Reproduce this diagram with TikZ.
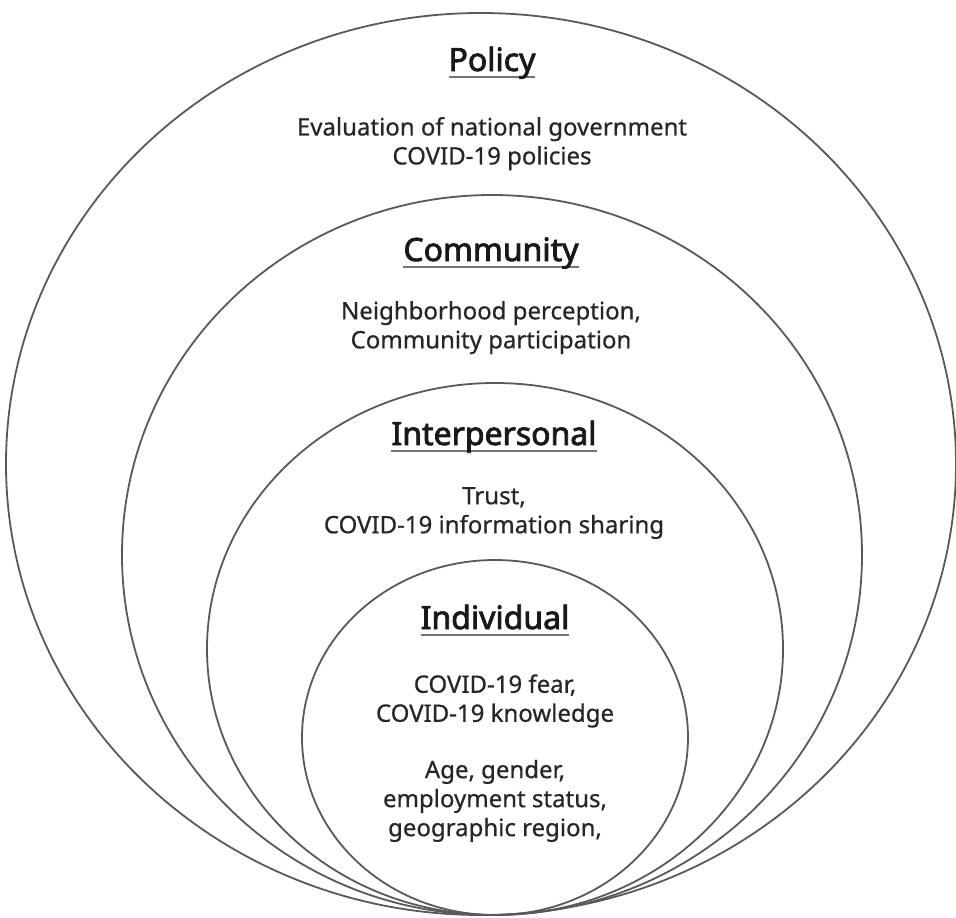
\documentclass[tikz,border=0pt]{standalone}
\usepackage{fontspec}
\setmainfont{Noto Sans}[FakeBold=0.6]
\newfontfamily\headfont{Noto Sans}[FakeBold=2.5]
\usetikzlibrary{shapes.geometric,positioning}

\newcommand{\levelhead}[1]{\setbox0=\hbox{#1}\rlap{\color{black!55}\rule[-7pt]{\wd0}{1.8pt}}\box0}

\begin{document}
\begin{tikzpicture}[x=1pt, y=-1pt,
    level/.style={ellipse, draw=black!65, line width=1.8pt, inner sep=0pt, outer sep=0pt},
    head/.style={anchor=base, inner sep=0pt, text=black!90, font=\headfont\fontsize{32}{38}\selectfont},
    body/.style={align=center, inner sep=0pt, text=black!85, font=\bfseries\fontsize{24}{29}\selectfont}]

  \useasboundingbox (0,0) rectangle (956,918);

  % levels
  \node[level, minimum width=950pt, minimum height=902pt] (policy) at (481,464) {};
  \node[level, minimum width=740pt, minimum height=720pt] (community) at (492,555) {};
  \node[level, minimum width=576pt, minimum height=532pt] (interpersonal) at (495,649) {};
  \node[level, minimum width=386pt, minimum height=355pt] (individual) at (495,737.5) {};

  % Policy
  \node[head] (policyT) at (492,71) {\levelhead{Policy}};
  \node[body, below=38pt of policyT] (policyB) {Evaluation of national government\\COVID-19 policies};

  % Community
  \node[head] (communityT) at (491,261) {\levelhead{Community}};
  \node[body, below=32pt of communityT] (communityB) {Neighborhood perception,\\Community participation};

  % Interpersonal
  \node[head] (interpersonalT) at (494,445) {\levelhead{Interpersonal}};
  \node[body, below=34pt of interpersonalT] (interpersonalB) {Trust,\\COVID-19 information sharing};

  % Individual
  \node[head] (individualT) at (495,629) {\levelhead{Individual}};
  \node[body, below=38pt of individualT] (individualA) {COVID-19 fear,\\COVID-19 knowledge};
  \node[body, below=32pt of individualA] (individualB) {Age, gender,\\employment status,\\geographic region,};

\end{tikzpicture}
\end{document}
